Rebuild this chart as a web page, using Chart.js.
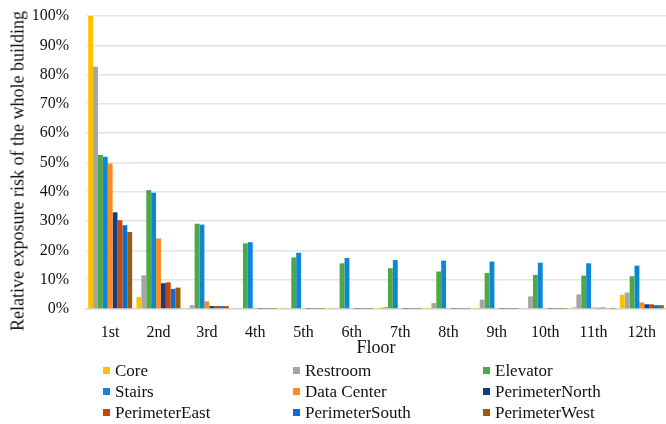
<!DOCTYPE html>
<html>
<head>
<meta charset="utf-8">
<script src="https://cdn.jsdelivr.net/npm/chart.js@4.4.1/dist/chart.umd.min.js"></script>
<style>
  html, body { margin: 0; padding: 0; background: #fff; }
  #wrap { position: relative; width: 666px; height: 424px; }
  #legend {
    position: absolute; left: 103px; top: 360px;
    display: grid; grid-template-columns: 190px 190px 190px;
    font-family: "Liberation Serif", "Times New Roman", serif;
    font-size: 17px; color: #111;
  }
  .item { height: 21px; line-height: 21px; display: flex; align-items: center; white-space: nowrap; }
  .box { width: 7px; height: 7px; margin-right: 5px; flex: none; }
  #ytitle {
    position: absolute; left: 17.5px; top: 171px;
    transform: translate(-50%, -50%) rotate(-90deg);
    font-family: "Liberation Serif", "Times New Roman", serif;
    font-size: 18px; color: #111; white-space: nowrap;
  }
</style>
</head>
<body>
<div id="wrap">
  <canvas id="chart" width="666" height="424"></canvas>
  <div id="ytitle"></div>
  <div id="legend"></div>
</div>
<script>
const floors = ["1st", "2nd", "3rd", "4th", "5th", "6th", "7th", "8th", "9th", "10th", "11th", "12th"];
const seriesNames = ["Core", "Restroom", "Elevator", "Stairs", "Data Center", "PerimeterNorth", "PerimeterEast", "PerimeterSouth", "PerimeterWest"];
const seriesColors = ["#FFC000", "#A5A5A5", "#4EA84A", "#0A87D6", "#FF8A1E", "#0E3F87", "#C2480A", "#0B6DD1", "#9C5C07"];
const yTitle = "Relative exposure risk of the whole building";
const xTitle = "Floor";

// values in percent
const core = [100, 4.1, 0.4, 0.1, 0.1, 0.1, 0.1, 0.1, 0.1, 0.3, 0.6, 4.8];
const restroom = [82.7, 11.5, 1.3, 0.2, 0.2, 0.2, 0.7, 2.0, 3.2, 4.3, 5.0, 5.6];
const elevator = [52.6, 40.6, 29.1, 22.4, 17.6, 15.6, 13.9, 12.8, 12.3, 11.6, 11.4, 11.2];
const stairs = [52.0, 39.7, 28.8, 22.8, 19.2, 17.4, 16.7, 16.5, 16.2, 15.8, 15.6, 14.8];
const dataCenter = [49.7, 24.1, 2.6, 0.4, 0.3, 0.2, 0.2, 0.2, 0.2, 0.2, 0.5, 2.2];
const perimNorth = [33.0, 8.8, 1.0, 0.1, 0.1, 0.1, 0.1, 0.1, 0.1, 0.1, 0.4, 1.6];
const perimEast = [30.3, 9.1, 1.0, 0.1, 0.1, 0.1, 0.1, 0.1, 0.1, 0.1, 0.5, 1.6];
const perimSouth = [28.6, 6.9, 1.0, 0.1, 0.1, 0.1, 0.1, 0.1, 0.1, 0.1, 0.2, 1.3];
const perimWest = [26.3, 7.3, 1.0, 0.1, 0.1, 0.1, 0.1, 0.1, 0.1, 0.1, 0.1, 1.3];

const yTicks = [0, 10, 20, 30, 40, 50, 60, 70, 80, 90, 100];

const seriesValues = [core, restroom, elevator, stairs, dataCenter, perimNorth, perimEast, perimSouth, perimWest];

const serif = "'Liberation Serif', 'Times New Roman', serif";

const datasets = seriesNames.map((name, i) => ({
  label: name,
  data: seriesValues[i],
  backgroundColor: seriesColors[i],
  borderWidth: 0,
  categoryPercentage: 0.91,
  barPercentage: 1.0,
}));

const chart = new Chart(document.getElementById("chart"), {
  type: "bar",
  data: { labels: floors, datasets: datasets },
  options: {
    responsive: false,
    animation: false,
    layout: { padding: { left: 0, right: 0, top: 16, bottom: 65 } },
    plugins: {
      legend: { display: false },
      tooltip: { enabled: false },
    },
    scales: {
      x: {
        grid: { display: false, drawTicks: false },
        border: { display: true, color: "#d9d9d9", width: 1.5 },
        ticks: { color: "#111", padding: 14, font: { family: serif, size: 16 }, maxRotation: 0 },
        title: { display: true, text: xTitle, color: "#111", padding: 0, font: { family: serif, size: 18 } },
        afterFit: (scale) => {
          scale.height = 50;
          scale.paddingLeft = 0;
          scale.paddingRight = 0;
        },
      },
      y: {
        min: 0,
        max: 100,
        afterBuildTicks: (scale) => { scale.ticks = yTicks.map((v) => ({ value: v })); },
        grid: { color: "#e4e4e4", lineWidth: 1.5, drawTicks: false },
        border: { display: false },
        ticks: { color: "#111", padding: 17, font: { family: serif, size: 16 }, callback: (v) => v + "%" },
        afterFit: (scale) => {
          scale.width = 86;
          scale.paddingTop = 0;
          scale.paddingBottom = 0;
        },
      },
    },
  },
});

// y title sits a bit lower than the plot centre in the original, so it is placed by hand
document.getElementById("ytitle").textContent = yTitle;

// legend in three columns like the original
const legendDiv = document.getElementById("legend");
chart.data.datasets.forEach((ds) => {
  const item = document.createElement("div");
  item.className = "item";
  item.innerHTML = `<span class="box" style="background:${ds.backgroundColor}"></span><span>${ds.label}</span>`;
  legendDiv.appendChild(item);
});
</script>
</body>
</html>
